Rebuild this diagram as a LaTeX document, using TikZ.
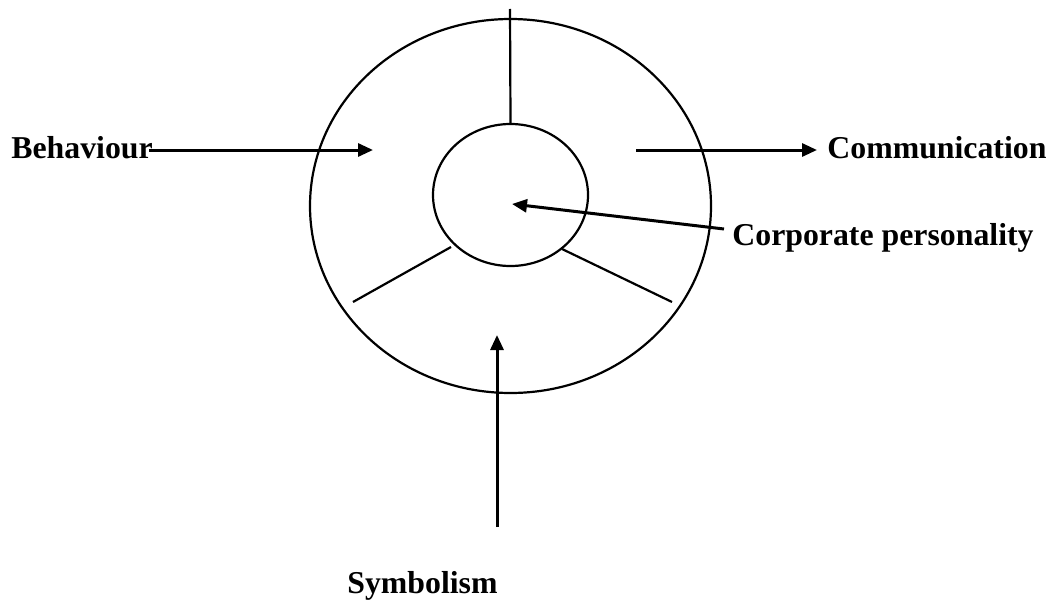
\documentclass[tikz,border=0pt]{standalone}
\usepackage{fontspec}
\setmainfont{Liberation Serif}
\usetikzlibrary{shapes.geometric, arrows.meta, positioning}

\begin{document}
\begin{tikzpicture}[
    x=0.5pt, y=-0.5pt,
    ring/.style={ellipse, draw, line width=1.1pt, inner sep=0pt},
    label/.style={inner sep=0pt, font=\fontsize{15.9}{18}\selectfont\bfseries},
    spoke/.style={line width=1.1pt},
    arrow/.style={-{Triangle[length=7.5pt, width=6.5pt]}, line width=1.5pt}
]
    \useasboundingbox (0,0) rectangle (1052,599);

    \node[ring, minimum width=200.5pt, minimum height=187pt] (outer) at (510.5,206) {};
    \node[ring, minimum width=77.5pt, minimum height=71pt] (inner) at (510.5,195) {};

    \coordinate (top) at (510,9);
    \coordinate (lowleftin) at (451,247);
    \coordinate (lowleftout) at (353,302);
    \coordinate (lowrightin) at (562,249);
    \coordinate (lowrightout) at (672,302);

    \draw[spoke] (top) -- (inner.north);
    \draw[spoke] (lowleftin) -- (lowleftout);
    \draw[spoke] (lowrightin) -- (lowrightout);

    \node[label, anchor=base west] (behaviour) at (11,158) {Behaviour};
    \node[label, anchor=base west] (communication) at (827,158) {Communication};
    \node[label, anchor=base west] (personality) at (732,245) {Corporate personality};
    \node[label, anchor=base west] (symbolism) at (347,593) {Symbolism};

    \coordinate (behaviourhead) at (373,150);
    \coordinate (commtail) at (636,150);
    \coordinate (commhead) at (817,150);
    \coordinate (persontail) at (724,229);
    \coordinate (personhead) at (512,204);
    \coordinate (symboltail) at (497,527);
    \coordinate (symbolhead) at (497,335);

    \draw[arrow] ([xshift=-2pt]behaviour.east |- behaviourhead) -- (behaviourhead);
    \draw[arrow] (commtail) -- (commhead);
    \draw[arrow] (persontail) -- (personhead);
    \draw[arrow] (symboltail) -- (symbolhead);
\end{tikzpicture}
\end{document}
